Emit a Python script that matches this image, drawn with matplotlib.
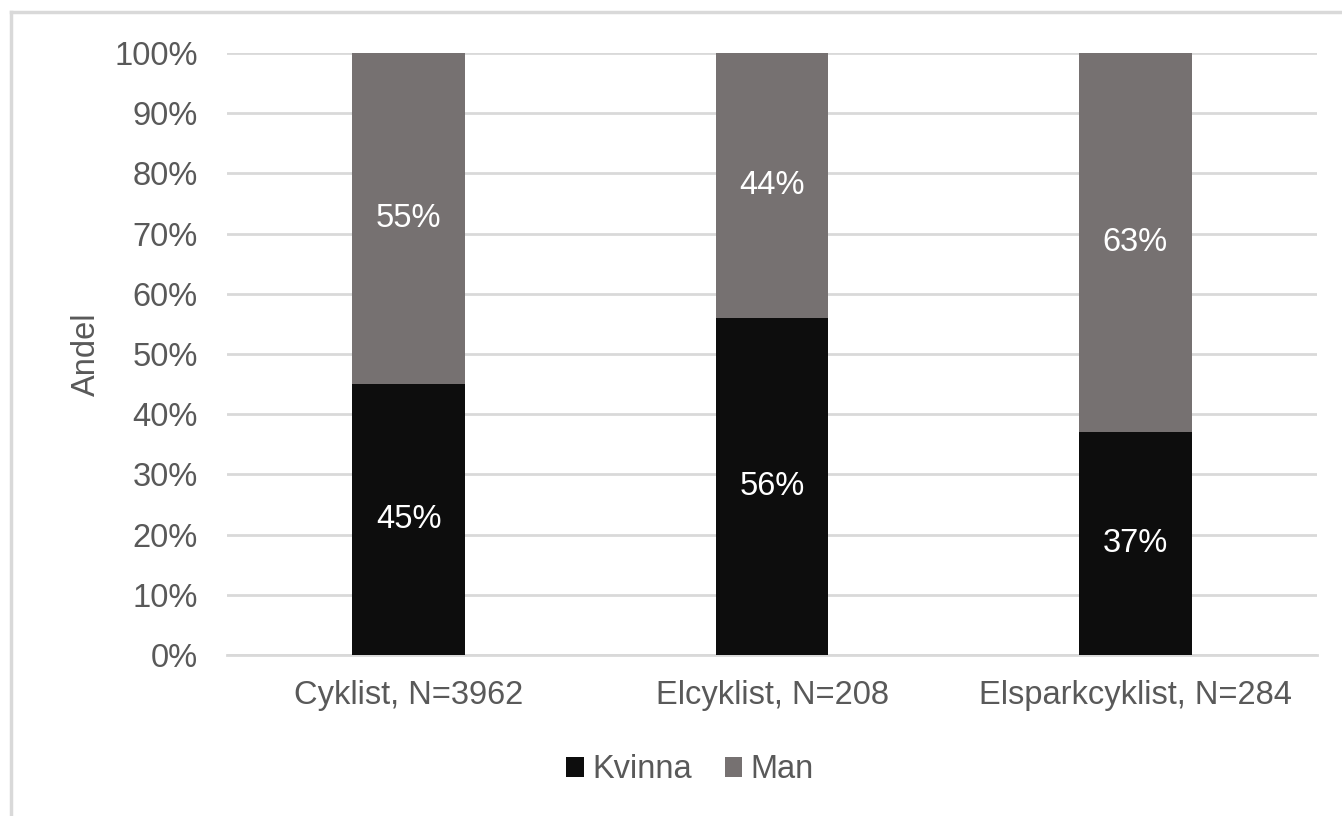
import matplotlib
matplotlib.use('Agg')
import matplotlib.pyplot as plt
from matplotlib.lines import Line2D
import numpy as np

plt.rcParams['font.family'] = ['Liberation Sans', 'DejaVu Sans']

categories = ['Cyklist, N=3962', 'Elcyklist, N=208', 'Elsparkcyklist, N=284']
kvinna = [45, 56, 37]
man = [55, 44, 63]
yticks = [0, 10, 20, 30, 40, 50, 60, 70, 80, 90, 100]

col_kvinna = '#0d0d0d'
col_man = '#767171'
txt = '#595959'
grid = '#d9d9d9'
fs = 23.5

fig = plt.figure(figsize=(13.42, 8.16), dpi=100)
ax = fig.add_axes([227/1342, 1 - 655/816, 1090/1342, 602/816])

x = np.arange(len(categories))
w = 0.31
b1 = ax.bar(x, kvinna, w, color=col_kvinna, label='Kvinna', zorder=3)
b2 = ax.bar(x, man, w, bottom=kvinna, color=col_man, label='Man', zorder=3)

for i in range(len(x)):
    ax.text(x[i], kvinna[i] / 2, f'{kvinna[i]}%', ha='center', va='center',
            color='white', fontsize=fs, zorder=4)
    ax.text(x[i], kvinna[i] + man[i] / 2, f'{man[i]}%', ha='center', va='center',
            color='white', fontsize=fs, zorder=4)

ax.set_xlim(-0.5, len(x) - 0.5)
ax.set_ylim(0, 100)
ax.set_yticks(yticks)
ax.set_yticklabels([f'{t}%' for t in yticks])
ax.set_xticks(x)
ax.set_xticklabels(categories)
ax.tick_params(axis='both', length=0, colors=txt, labelsize=fs)
ax.tick_params(axis='y', pad=21)
ax.tick_params(axis='x', pad=18)
ax.yaxis.grid(True, color=grid, linewidth=2, zorder=0)
for s in ['top', 'right', 'left']:
    ax.spines[s].set_visible(False)
ax.spines['bottom'].set_color(grid)
ax.spines['bottom'].set_linewidth(2)

ax.set_ylabel('Andel', color=txt, fontsize=fs)
ax.yaxis.set_label_coords(-0.115, 0.5)

fig.legend(handles=[b1, b2], labels=['Kvinna', 'Man'], loc='center',
           bbox_to_anchor=(690/1342, 1 - 770/816), ncol=2, frameon=False,
           fontsize=fs, labelcolor=txt, handlelength=0.55, handleheight=0.55,
           handletextpad=0.25, columnspacing=1.0)

# chart border (only left and top visible in the crop)
fig.add_artist(Line2D([11/1342, 11/1342], [0, 1 - 12/816], color=grid, linewidth=2.5))
fig.add_artist(Line2D([11/1342, 1], [1 - 12/816, 1 - 12/816], color=grid, linewidth=2.5))

fig.savefig('out.png', dpi=100)
